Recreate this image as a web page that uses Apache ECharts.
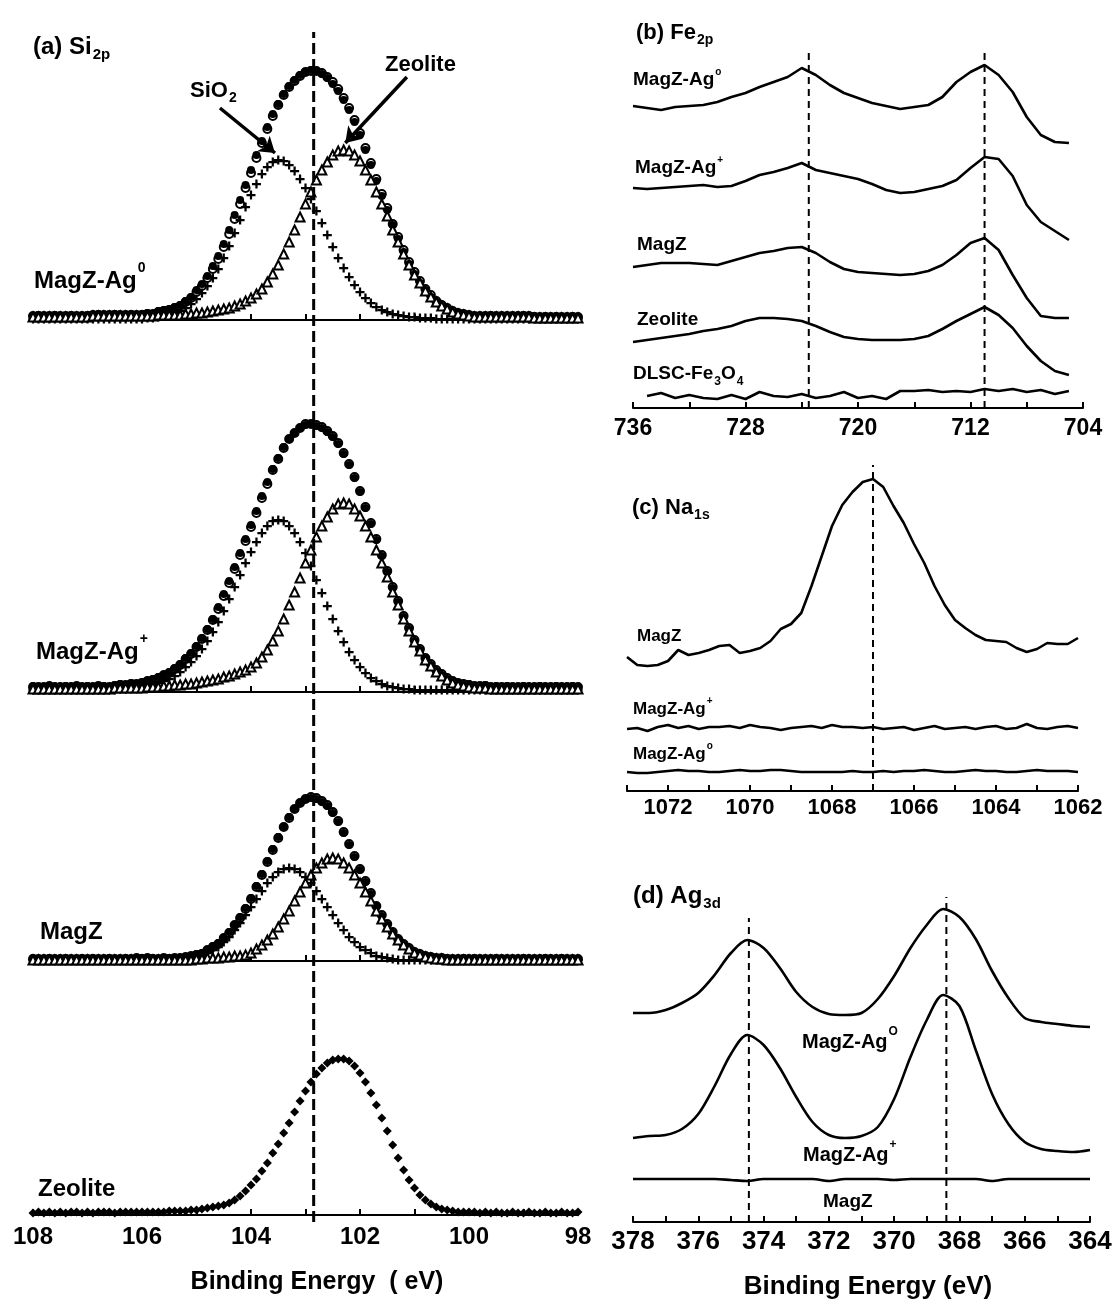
<!DOCTYPE html>
<html>
<head>
<meta charset="utf-8">
<script src="https://cdn.jsdelivr.net/npm/echarts@6/dist/echarts.min.js"></script>
<style>html,body{margin:0;padding:0;background:#fff}#c{width:1113px;height:1307px}</style>
</head>
<body>
<div id="c"></div>
<script>
// ---------------- DATA ----------------
// (a) Si2p, binding energy grid (eV)
const xSi = [108.0,107.9,107.8,107.7,107.6,107.5,107.4,107.3,107.2,107.1,
 107.0,106.9,106.8,106.7,106.6,106.5,106.4,106.3,106.2,106.1,
 106.0,105.9,105.8,105.7,105.6,105.5,105.4,105.3,105.2,105.1,
 105.0,104.9,104.8,104.7,104.6,104.5,104.4,104.3,104.2,104.1,
 104.0,103.9,103.8,103.7,103.6,103.5,103.4,103.3,103.2,103.1,
 103.0,102.9,102.8,102.7,102.6,102.5,102.4,102.3,102.2,102.1,
 102.0,101.9,101.8,101.7,101.6,101.5,101.4,101.3,101.2,101.1,
 101.0,100.9,100.8,100.7,100.6,100.5,100.4,100.3,100.2,100.1,
 100.0,99.9,99.8,99.7,99.6,99.5,99.4,99.3,99.2,99.1,
 99.0,98.9,98.8,98.7,98.6,98.5,98.4,98.3,98.2,98.1,98.0];
const siTicks = [108, 106, 104, 102, 100, 98];
const siPeakEV = 102.85;

// MagZ-Ag0
const ag0Data = [3,5,4,3,5,4,3,5,4,4, 5,4,6,5,4,6,5,5,6,5, 6,7,6,9,10,11,13,15,19,23,
 30,36,44,54,64,76,90,105,120,135, 150,165,179,193,206,216,226,234,240,245,
 248,250,249,246,242,236,229,220,210,198, 185,170,155,139,124,110,95,81,68,56,
 46,37,30,23,18,14,11,8,7,5, 5,4,3,4,5,3,4,4,3,4, 5,3,4,3,4,3,4,3,3,4,3];
const ag0Fit = [4,4,4,4,4,4,4,4,4,4, 4,5,5,5,5,5,5,5,5,5, 5,6,6,8,9,10,12,14,18,22,
 28,34,42,51,61,73,86,101,116,132, 147,162,177,191,204,215,225,233,239,244,
 248,249,249,247,243,238,231,222,212,200, 187,172,157,141,126,112,96,83,70,58,
 48,39,31,25,19,15,12,9,7,6, 5,4,4,4,4,4,4,4,4,4, 4,4,3,3,3,3,3,3,3,3,3];
const ag0SiO2 = [1,1,1,1,1,1,1,1,1,1, 1,1,1,1,1,1,1,1,1,1, 1,2,2,3,4,5,7,9,12,16,
 21,27,34,42,51,62,74,87,100,113, 125,136,146,153,158,160,159,155,149,141,
 132,121,109,97,85,73,62,52,43,35, 28,22,17,13,10,8,6,5,4,3,
 3,2,2,2,1,1,1,1,1,1, 1,1,1,1,1,1,1,1,1,1, 1,1,1,1,1,1,1,1,1,1,1];
const ag0Zeo = [3,3,3,3,3,3,3,3,3,3, 3,4,4,4,4,4,4,4,4,4, 4,4,4,5,5,5,5,5,6,6,
 7,7,8,9,10,11,12,14,16,19, 22,26,31,38,46,55,66,78,90,103,
 116,128,140,150,158,165,169,170,169,165, 159,150,140,128,116,104,90,78,66,55,
 45,37,29,23,18,14,11,8,6,5, 4,3,3,3,3,3,3,3,3,3, 3,3,2,2,2,2,2,2,2,2,2];

// MagZ-Ag+
const agpData = [6,4,5,7,5,4,6,5,7,5, 6,5,7,6,5,7,8,7,9,8, 10,11,13,15,17,20,24,28,34,39,
 46,54,63,73,85,98,111,125,139,153, 167,181,196,210,223,234,245,253,259,264,
 267,268,266,264,260,255,248,238,227,214, 200,184,168,152,136,120,104,90,75,63,
 51,42,34,27,21,17,13,11,9,7, 8,6,5,7,5,6,4,6,5,5, 6,4,5,6,5,4,6,5,5,6,5];
const agpFit = [5,5,5,5,5,5,5,5,5,5, 5,5,5,5,5,6,7,7,8,8, 9,11,12,14,17,19,23,27,33,38,
 45,53,62,72,83,96,109,123,137,151, 165,179,194,208,222,233,244,253,259,264,
 268,268,267,265,261,256,249,239,228,215, 201,185,169,153,137,121,105,91,76,64,
 52,43,34,28,22,18,14,11,9,8, 7,6,6,6,5,5,5,5,5,5, 5,5,5,5,5,5,5,5,5,5,5];
const agpSiO2 = [2,2,2,2,2,2,2,2,2,2, 2,2,2,2,2,2,3,3,4,4, 5,6,7,9,11,13,16,20,25,30,
 36,43,51,60,70,81,93,105,117,129, 140,150,159,166,171,172,171,166,159,150,
 139,126,112,99,86,73,61,50,40,32, 25,19,14,11,8,6,5,4,3,3,
 2,2,2,2,2,2,2,2,2,2, 2,2,2,2,2,2,2,2,2,2, 2,2,2,2,2,2,2,2,2,2,2];
const agpZeo = [3,3,3,3,3,3,3,3,3,3, 3,3,3,3,3,4,4,4,4,4, 4,5,5,5,6,6,7,7,8,8,
 9,10,11,12,13,15,16,18,20,22, 25,29,35,42,51,61,73,87,100,114,
 129,142,155,166,175,183,188,189,188,183, 176,166,155,142,129,115,100,87,73,61,
 50,41,32,26,20,16,12,9,7,6, 5,4,4,4,3,3,3,3,3,3, 3,3,3,3,3,3,3,3,3,3,3];

// MagZ
const mzData = [3,2,1,3,2,2,3,1,2,3, 2,3,2,1,3,2,2,3,2,4, 3,4,3,2,4,3,4,4,5,6,
 7,8,11,15,18,23,29,36,44,53, 63,75,87,100,112,124,134,144,152,158,
 162,163,162,159,155,148,139,128,116,104, 91,79,67,55,45,36,28,22,16,12,
 9,6,5,4,3,2,3,2,1,3, 2,3,2,1,2,3,2,2,1,2, 3,2,2,1,3,2,2,3,2,1,2];
const mzFit = [2,2,2,2,2,2,2,2,2,2, 2,2,2,2,2,2,2,2,2,2, 2,2,2,2,2,2,2,2,3,4,
 6,7,11,14,17,23,28,36,43,52, 62,74,86,99,111,123,134,143,152,158,
 162,164,163,160,156,149,140,129,117,105, 92,80,68,55,46,37,29,22,17,13,
 9,7,5,4,3,3,2,2,2,2, 2,2,2,2,2,2,2,2,2,2, 2,2,2,2,2,2,2,2,2,2,2];
const mzSiO2 = [1,1,1,1,1,1,1,1,1,1, 1,1,1,1,1,1,1,1,1,1, 1,1,1,1,1,1,1,1,2,3,
 4,5,8,11,14,19,24,31,38,46, 54,62,70,78,84,89,92,93,92,89,
 84,78,70,62,54,46,38,31,24,19, 14,11,8,5,4,3,2,1,1,1,
 1,1,1,1,1,1,1,1,1,1, 1,1,1,1,1,1,1,1,1,1, 1,1,1,1,1,1,1,1,1,1,1];
const mzZeo = [1,1,1,1,1,1,1,1,1,1, 1,1,1,1,1,1,1,1,1,1, 1,1,1,1,1,1,1,1,1,1,
 2,2,3,3,3,4,4,5,5,6, 8,12,16,21,27,34,42,50,60,69,
 78,86,93,98,102,103,102,98,93,86, 78,69,60,50,42,34,27,21,16,12,
 8,6,4,3,2,2,1,1,1,1, 1,1,1,1,1,1,1,1,1,1, 1,1,1,1,1,1,1,1,1,1,1];

// Zeolite
const zeoData = [2,3,2,3,2,3,2,3,3,2, 3,2,3,3,3,2,3,3,3,3, 3,3,3,3,3,4,4,4,4,5,
 5,6,7,8,9,10,12,15,19,24, 30,36,44,52,62,71,82,92,103,114,
 124,133,141,147,152,155,156,156,154,149, 142,133,122,110,97,84,70,57,45,35,
 27,20,15,11,8,6,5,4,3,3, 3,3,2,3,2,3,2,2,3,2, 2,3,2,2,3,2,2,3,2,2,3];

// arrows in (a): [fromEV, fromH, toEV, toH]
const siArrows = [[104.57, 212, 103.56, 167], [101.14, 243, 102.27, 177]];

// (b) Fe2p
const xFe = [736,735,734,733,732,731,730,729,728,727,726,725,724,723,722,721,720,719,718,717,716,715,714,713,712,711,710,709,708,707,706,705];
const feTicks = [736, 728, 720, 712, 704];
const feAg0 = [302,300,298,301,302,303,306,311,315,321,326,331,340,333,323,315,310,305,302,299,301,303,311,326,336,343,333,316,291,273,266,265];
const feAgp = [220,219,220,221,222,223,221,222,227,233,236,240,245,238,235,232,229,224,218,215,216,219,222,228,240,251,249,232,203,186,177,168];
const feMagZ = [141,143,145,145,145,144,143,147,151,155,157,160,161,155,146,139,136,135,134,133,134,137,143,153,165,170,158,133,110,92,90,90];
const feZeo = [66,68,70,72,74,77,79,82,87,90,90,89,87,82,76,71,69,68,68,68,69,72,79,87,94,101,93,80,62,47,37,33];
const feDLSC = [null,12,15,10,13,10,9,13,9,16,12,11,14,10,12,16,10,12,9,17,17,18,16,17,16,19,17,19,16,18,14,17];
const fePeaks = [723.5, 711.0];

// (c) Na1s
const xNa = [1073,1072.75,1072.5,1072.25,1072,1071.75,1071.5,1071.25,1071,1070.75,1070.5,1070.25,1070,1069.75,1069.5,1069.25,1069,1068.75,1068.5,1068.25,1068,1067.75,1067.5,1067.25,1067,1066.75,1066.5,1066.25,1066,1065.75,1065.5,1065.25,1065,1064.75,1064.5,1064.25,1064,1063.75,1063.5,1063.25,1063,1062.75,1062.5,1062.25,1062];
const naTicks = [1072, 1070, 1068, 1066, 1064, 1062];
const naMagZ = [134,126,125,126,130,141,136,138,141,145,146,138,140,143,150,162,167,178,205,235,265,286,299,309,312,304,285,268,247,228,205,186,171,163,156,151,150,149,143,139,142,148,147,147,153];
const naAgp = [62,63,60,64,66,63,65,62,64,64,65,63,66,64,63,61,63,64,65,63,66,64,64,63,64,62,63,64,61,63,65,62,63,64,62,64,65,62,63,67,63,62,64,65,63];
const naAg0 = [19,18,18,19,20,21,20,20,19,19,20,21,20,20,21,21,20,19,19,19,19,19,20,19,19,20,19,20,20,21,20,19,19,20,21,20,20,19,19,20,21,20,20,20,19];
const naPeak = 1067.0;

// (d) Ag3d
const xAg = [378,377.5,377,376.5,376,375.5,375,374.5,374,373.5,373,372.5,372,371.5,371,370.5,370,369.5,369,368.5,368,367.5,367,366.5,366,365.5,365,364.5,364];
const agTicks = [378, 376, 374, 372, 370, 368, 366, 364];
const agAg0 = [209,209,212,219,229,247,269,282,274,254,230,215,208,207,209,223,246,274,297,313,305,283,251,224,204,200,198,196,195];
const agAgp = [84,86,87,93,108,136,168,187,177,154,125,100,87,84,86,95,123,165,202,227,216,172,128,98,80,73,71,70,72];
const agMagZ = [43,43,43,43,43,43,42,41,43,43,43,43,41,43,43,43,42,43,43,43,43,43,41,43,43,43,43,43,43];
const agPeaks = [374.45, 368.4];

// ---------------- CHART ----------------
const FONT = '"Liberation Sans", Arial, sans-serif';
const chart = echarts.init(document.getElementById('c'), null, {renderer: 'canvas'});

const grids = [
  {left: 33, top: 40, width: 545, height: 280},    // 0 a: MagZ-Ag0
  {left: 33, top: 412, width: 545, height: 280},   // 1 a: MagZ-Ag+
  {left: 33, top: 681, width: 545, height: 280},   // 2 a: MagZ
  {left: 33, top: 935, width: 545, height: 280},   // 3 a: Zeolite
  {left: 33, top: 32, width: 545, height: 1190},   // 4 a: dashed overlay
  {left: 633, top: 28, width: 450, height: 380},   // 5 b
  {left: 627, top: 451, width: 451, height: 340},  // 6 c
  {left: 633, top: 882, width: 457, height: 340}   // 7 d
].map(g => Object.assign({outerBoundsMode: 'none', containLabel: false}, g));

function xAx(gi, min, max, interval, o) {
  o = o || {};
  return {
    type: 'value', gridIndex: gi, min: min, max: max, interval: interval, inverse: true,
    show: o.show !== false,
    axisLine: {show: true, onZero: false, lineStyle: {color: '#000', width: 2}},
    axisTick: {show: true, inside: true, length: 6, lineStyle: {color: '#000', width: 2}},
    splitLine: {show: false},
    axisLabel: {
      show: !!o.ticks, color: '#000', fontSize: o.fs || 22, fontWeight: 'bold', fontFamily: FONT,
      margin: o.margin || 8, showMinLabel: true, showMaxLabel: true,
      formatter: function (v) { return (o.ticks && o.ticks.indexOf(v) >= 0) ? String(v) : ''; }
    }
  };
}
function yAx(gi, max) { return {type: 'value', gridIndex: gi, min: 0, max: max, show: false}; }

const xAxes = [
  xAx(0, 98, 108, 1), xAx(1, 98, 108, 1), xAx(2, 98, 108, 1),
  xAx(3, 98, 108, 1, {ticks: siTicks, fs: 24, margin: 10}),
  xAx(4, 98, 108, 1, {show: false}),
  xAx(5, 704, 736, 4, {ticks: feTicks, fs: 23, margin: 9}),
  xAx(6, 1062, 1073, 1, {ticks: naTicks, fs: 22, margin: 6}),
  xAx(7, 364, 378, 1, {ticks: agTicks, fs: 26, margin: 7})
];
const yAxes = [yAx(0, 280), yAx(1, 280), yAx(2, 280), yAx(3, 280), yAx(4, 1), yAx(5, 380), yAx(6, 340), yAx(7, 340)];

const PLUS = 'path://M3,0H5V3H8V5H5V8H3V5H0V3H3Z';
const series = [];
function scat(gi, ys, symbol, size, z, extra) {
  series.push(Object.assign({
    type: 'scatter', xAxisIndex: gi, yAxisIndex: gi, symbol: symbol, symbolSize: size, z: z, silent: true,
    clip: false,
    itemStyle: {color: '#000', borderColor: '#000', borderWidth: 1.4, opacity: 1},
    data: xSi.map((x, i) => [x, ys[i]])
  }, extra || {}));
}
function spectrum(gi, data, fit, sio2, zeo, arrows) {
  scat(gi, fit, 'emptyCircle', 8, 2);
  scat(gi, data, 'circle', 8, 3, {itemStyle: {color: '#000', opacity: 1}});
  scat(gi, sio2, PLUS, 9, 4, {itemStyle: {color: '#000', opacity: 1}});
  const extra = arrows ? {markLine: {
    silent: true, symbol: ['none', 'arrow'], symbolSize: 15, label: {show: false},
    lineStyle: {color: '#000', width: 3.5, type: 'solid', opacity: 1},
    data: arrows.map(a => [{coord: [a[0], a[1]]}, {coord: [a[2], a[3]]}])
  }} : {};
  scat(gi, zeo, 'emptyTriangle', 9, 5, extra);
}
spectrum(0, ag0Data, ag0Fit, ag0SiO2, ag0Zeo, siArrows);
spectrum(1, agpData, agpFit, agpSiO2, agpZeo);
spectrum(2, mzData, mzFit, mzSiO2, mzZeo);
scat(3, zeoData, 'diamond', 9, 3, {itemStyle: {color: '#000', opacity: 1}});

function vline(gi, x, top, width, dash) {
  series.push({type: 'line', xAxisIndex: gi, yAxisIndex: gi, symbol: 'none', silent: true, z: 10,
    lineStyle: {color: '#000', width: width, type: dash}, data: [[x, 0], [x, top]]});
}
vline(4, siPeakEV, 1, 3, [11, 5]);

function curve(gi, xs, ys, smooth) {
  const d = [];
  xs.forEach((x, i) => { if (ys[i] != null) d.push([x, ys[i]]); });
  series.push({type: 'line', xAxisIndex: gi, yAxisIndex: gi, symbol: 'none', silent: true, smooth: smooth || false,
    lineStyle: {color: '#000', width: 2.6}, data: d});
}
[feAg0, feAgp, feMagZ, feZeo, feDLSC].forEach(ys => curve(5, xFe, ys));
fePeaks.forEach(p => vline(5, p, 358, 2, [7, 5]));
[naMagZ, naAgp, naAg0].forEach(ys => curve(6, xNa, ys));
vline(6, naPeak, 326, 2, [7, 5]);
[agAg0, agAgp, agMagZ].forEach(ys => curve(7, xAg, ys, 0.3));
vline(7, agPeaks[0], 304, 2, [7, 5]);
vline(7, agPeaks[1], 325, 2, [7, 5]);

// ---------------- TEXT ----------------
function lab(x, y, tokens, F, o) {
  o = o || {};
  const sp = Math.round(F * (o.supScale || 0.6));
  const sb = Math.round(F * (o.subScale || 0.62));
  const base = {fill: '#000', fontWeight: 'bold', fontFamily: FONT};
  return {
    type: 'text', x: x, y: y, silent: true, z: 50,
    style: {
      text: tokens.map(t => '{' + t[0] + '|' + t[1] + '}').join(''),
      rich: {
        m: Object.assign({fontSize: F, lineHeight: F, verticalAlign: 'top', padding: [o.raise || 0, 0, 0, 0]}, base),
        p: Object.assign({fontSize: sp, lineHeight: sp, verticalAlign: 'top', padding: [0, 0, 0, 1]}, base),
        b: Object.assign({fontSize: sb, lineHeight: sb, verticalAlign: 'top', padding: [o.drop != null ? o.drop : Math.round(F * 0.5), 0, 0, 1]}, base)
      },
      align: o.align || 'left', verticalAlign: 'top'
    }
  };
}
const graphics = [
  // (a)
  lab(33, 35, [['m', '(a) Si'], ['b', '2p']], 24),
  lab(190, 80, [['m', 'SiO'], ['b', '2']], 22),
  lab(385, 54, [['m', 'Zeolite']], 22),
  lab(34, 261, [['m', 'MagZ-Ag'], ['p', '0']], 24, {raise: 8}),
  lab(36, 632, [['m', 'MagZ-Ag'], ['p', '+']], 24, {raise: 8}),
  lab(40, 920, [['m', 'MagZ']], 24),
  lab(38, 1177, [['m', 'Zeolite']], 24),
  lab(317, 1270, [['m', 'Binding Energy  ( eV)']], 25, {align: 'center'}),
  // (b)
  lab(636, 22, [['m', '(b) Fe'], ['b', '2p']], 22),
  lab(633, 67, [['m', 'MagZ-Ag'], ['p', 'o']], 19, {raise: 3, supScale: 0.5}),
  lab(635, 155, [['m', 'MagZ-Ag'], ['p', '+']], 19, {raise: 3, supScale: 0.5}),
  lab(637, 235, [['m', 'MagZ']], 19),
  lab(637, 310, [['m', 'Zeolite']], 19),
  lab(633, 364, [['m', 'DLSC-Fe'], ['b', '3'], ['m', 'O'], ['b', '4']], 19, {drop: 12}),
  // (c)
  lab(632, 497, [['m', '(c) Na'], ['b', '1s']], 22),
  lab(637, 628, [['m', 'MagZ']], 17),
  lab(633, 696, [['m', 'MagZ-Ag'], ['p', '+']], 17, {raise: 5}),
  lab(633, 741, [['m', 'MagZ-Ag'], ['p', 'o']], 17, {raise: 5}),
  // (d)
  lab(633, 884, [['m', '(d) Ag'], ['b', '3d']], 24),
  lab(802, 1026, [['m', 'MagZ-Ag'], ['p', 'O']], 20, {raise: 6}),
  lab(803, 1139, [['m', 'MagZ-Ag'], ['p', '+']], 20, {raise: 6}),
  lab(823, 1192, [['m', 'MagZ']], 19),
  lab(868, 1274, [['m', 'Binding Energy (eV)']], 26, {align: 'center'})
];

chart.setOption({
  backgroundColor: '#fff',
  animation: false,
  grid: grids,
  xAxis: xAxes,
  yAxis: yAxes,
  series: series,
  graphic: graphics
});
</script>
</body>
</html>
